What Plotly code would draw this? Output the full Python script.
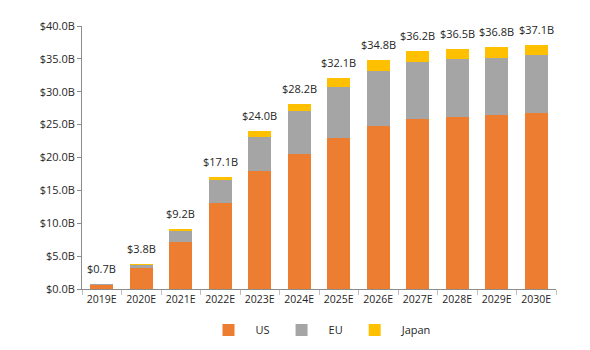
import plotly.graph_objects as go

years = ["2019E", "2020E", "2021E", "2022E", "2023E", "2024E",
         "2025E", "2026E", "2027E", "2028E", "2029E", "2030E"]
us = [0.65, 3.2, 7.1, 13.1, 17.9, 20.6, 22.9, 24.8, 25.8, 26.1, 26.4, 26.8]
eu = [0.05, 0.5, 1.7, 3.5, 5.2, 6.5, 7.8, 8.4, 8.8, 8.9, 8.7, 8.8]
japan = [0.0, 0.1, 0.4, 0.5, 0.9, 1.1, 1.4, 1.6, 1.6, 1.5, 1.7, 1.5]
total_labels = ["$0.7B", "$3.8B", "$9.2B", "$17.1B", "$24.0B", "$28.2B",
                "$32.1B", "$34.8B", "$36.2B", "$36.5B", "$36.8B", "$37.1B"]
y_ticks = [0, 5, 10, 15, 20, 25, 30, 35, 40]
y_tick_labels = ["$0.0B", "$5.0B", "$10.0B", "$15.0B", "$20.0B", "$25.0B",
                 "$30.0B", "$35.0B", "$40.0B"]

font_family = "Open Sans, Noto Sans, sans-serif"
text_color = "#262626"

fig = go.Figure()
for name, vals, color in [("US", us, "#ED7D31"), ("EU", eu, "#A5A5A5"), ("Japan", japan, "#FFC000")]:
    fig.add_trace(go.Bar(
        x=years, y=vals, name=name,
        marker=dict(color=color, line=dict(width=0)),
        width=0.58,
    ))

stack_tops = [u + e + j for u, e, j in zip(us, eu, japan)]
for x, top, lab in zip(years, stack_tops, total_labels):
    fig.add_annotation(x=x, y=top, text=lab, showarrow=False,
                       yanchor="bottom", yshift=6,
                       font=dict(size=11, color=text_color, family=font_family))

fig.update_layout(
    barmode="stack",
    width=590, height=350,
    margin=dict(l=82, r=34, t=26, b=61, autoexpand=False),
    paper_bgcolor="white", plot_bgcolor="white",
    font=dict(family=font_family, size=11, color=text_color),
    bargap=0.42,
    legend=dict(orientation="h", x=0.5, xanchor="center", y=-0.156, yanchor="middle",
                font=dict(size=11, color=text_color), itemwidth=44,
                traceorder="normal"),
    xaxis=dict(
        showline=True, linecolor="#8c8c8c", linewidth=1,
        ticks="outside", tickson="boundaries", ticklen=5, tickcolor="#bfbfbf",
        tickfont=dict(size=10.5, color=text_color), tickangle=0,
        showgrid=False, automargin=False,
    ),
    yaxis=dict(
        range=[0, 40], tickvals=y_ticks, ticktext=y_tick_labels,
        showline=True, linecolor="#8c8c8c", linewidth=1,
        ticks="outside", ticklen=4, tickcolor="#8c8c8c",
        showgrid=False, zeroline=False, automargin=False,
        tickfont=dict(size=11, color=text_color),
    ),
)

fig.write_html("out.html")
